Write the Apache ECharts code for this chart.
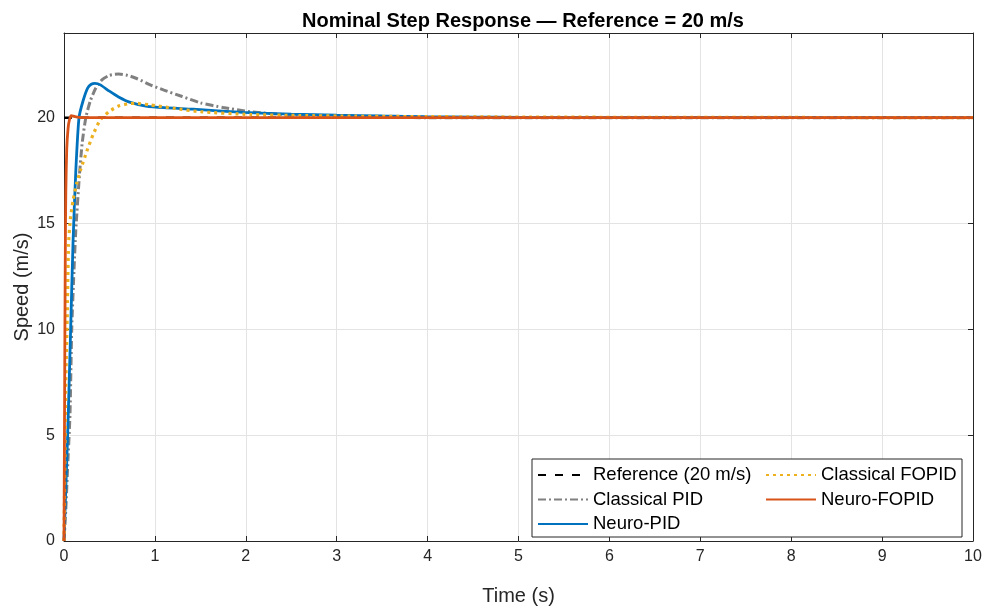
<!DOCTYPE html>
<html>
<head>
<meta charset="utf-8">
<script src="https://cdn.jsdelivr.net/npm/echarts@6/dist/echarts.min.js"></script>
<style>
  html, body { margin: 0; padding: 0; background: #fff; }
  #chart { width: 987px; height: 612px; }
</style>
</head>
<body>
<div id="chart"></div>
<script>
// time (s) / speed (m/s) samples
const refT = [0, 10];
const refV = [20, 20];

const pidT = [0, 0.02, 0.04, 0.066, 0.085, 0.11, 0.13, 0.17, 0.2, 0.24, 0.29, 0.35, 0.42, 0.5, 0.6, 0.7, 0.8, 0.95, 1.1, 1.3, 1.5, 1.75, 2.05, 2.4, 2.8, 3.2, 4, 10];
const pidV = [0, 1.5, 3.5, 6, 10, 12.8, 14.7, 17.3, 18.8, 20, 20.8, 21.4, 21.8, 22.0, 22.06, 22.0, 21.85, 21.55, 21.3, 21.0, 20.7, 20.48, 20.28, 20.15, 20.08, 20.04, 20, 20];

const npidT = [0, 0.02, 0.04, 0.07, 0.1, 0.13, 0.165, 0.21, 0.26, 0.3, 0.34, 0.4, 0.5, 0.6, 0.73, 0.9, 1.1, 1.42, 1.97, 2.5, 3.0, 3.5, 4.0, 4.5, 5, 10];
const npidV = [0, 2.5, 5, 9.5, 14.2, 17.5, 20, 20.8, 21.4, 21.58, 21.62, 21.55, 21.25, 20.98, 20.72, 20.55, 20.47, 20.4, 20.25, 20.17, 20.12, 20.08, 20.05, 20.03, 20.01, 20];

const fopidT = [0, 0.01, 0.02, 0.035, 0.05, 0.07, 0.1, 0.14, 0.18, 0.25, 0.32, 0.4, 0.5, 0.6, 0.7, 0.78, 0.95, 1.2, 1.5, 2.05, 2.6, 3.2, 4, 5, 6, 8, 10];
const fopidV = [0, 4, 7.5, 10.5, 14, 15.2, 16.1, 16.9, 17.5, 18.4, 19.2, 19.9, 20.3, 20.55, 20.65, 20.68, 20.6, 20.45, 20.28, 20.15, 20.1, 20.07, 20.05, 20.03, 20.02, 20.01, 20];

const nfopidT = [0, 0.005, 0.01, 0.015, 0.02, 0.03, 0.045, 0.06, 0.08, 0.12, 0.2, 10];
const nfopidV = [0, 5, 10, 14, 16.5, 18.5, 19.5, 19.9, 20.1, 20.05, 20, 20];

const xTicks = { min: 0, max: 10, interval: 1 };
const yTicks = { min: 0, max: 24, interval: 5 };

const pairs = (t, v) => t.map((x, i) => [x, v[i]]);

const FONT = 'Liberation Sans, Arial, sans-serif';
const AX = '#262626';

const chart = echarts.init(document.getElementById('chart'));

function lineSeries(name, data, color, width, type, z) {
  return {
    name, type: 'line', data, z,
    showSymbol: false, symbol: 'none',
    smooth: 0.2,
    lineStyle: { color, width, type, cap: 'butt' },
    itemStyle: { color },
    animation: false
  };
}

const axisCommon = {
  axisLine: { show: true, onZero: false, lineStyle: { color: AX, width: 1 } },
  axisTick: { show: true, inside: true, length: 5, lineStyle: { color: AX } },
  splitLine: { show: false }
};

const legendCommon = {
  orient: 'vertical', top: 460, z: 100,
  itemWidth: 50, itemHeight: 14, itemGap: 4.5,
  itemStyle: { opacity: 0 },
  textStyle: { fontFamily: FONT, fontSize: 18.5, lineHeight: 20, color: '#000' }
};

chart.setOption({
  animation: false,
  textStyle: { fontFamily: FONT },
  title: {
    text: 'Nominal Step Response — Reference = 20 m/s',
    left: 518, top: 6, textAlign: 'center',
    textStyle: { fontFamily: FONT, fontSize: 20, fontWeight: 'bold', color: '#000' }
  },
  grid: { left: 64, right: 14, top: 33, bottom: 71 },
  xAxis: [
    Object.assign({}, axisCommon, {
      type: 'value', position: 'bottom',
      min: xTicks.min, max: xTicks.max, interval: xTicks.interval,
      name: 'Time (s)', nameLocation: 'middle', nameGap: 45, nameMoveOverlap: false,
      nameTextStyle: { fontFamily: FONT, fontSize: 20, color: AX },
      axisLabel: { fontFamily: FONT, fontSize: 16, color: AX, margin: 8 },
      splitLine: { show: true, lineStyle: { color: '#e3e3e3', width: 1 } }
    }),
    Object.assign({}, axisCommon, {
      type: 'value', position: 'top',
      min: xTicks.min, max: xTicks.max, interval: xTicks.interval,
      axisLabel: { show: false }
    })
  ],
  yAxis: [
    Object.assign({}, axisCommon, {
      type: 'value', position: 'left',
      min: yTicks.min, max: yTicks.max, interval: yTicks.interval,
      name: 'Speed (m/s)', nameLocation: 'middle', nameGap: 32, nameMoveOverlap: false,
      nameTextStyle: { fontFamily: FONT, fontSize: 20, color: AX },
      axisLabel: {
        fontFamily: FONT, fontSize: 16, color: AX, margin: 9,
        formatter: v => (v % yTicks.interval === 0 ? String(v) : '')
      },
      splitLine: { show: true, lineStyle: { color: '#e3e3e3', width: 1 } }
    }),
    Object.assign({}, axisCommon, {
      type: 'value', position: 'right',
      min: yTicks.min, max: yTicks.max, interval: yTicks.interval,
      axisLabel: { show: false }
    })
  ],
  graphic: [{
    type: 'rect', z: 90,
    shape: { x: 532, y: 459, width: 430, height: 78 },
    style: { fill: '#fff', stroke: '#262626', lineWidth: 1 }
  }],
  legend: [
    Object.assign({}, legendCommon, {
      data: ['Reference (20 m/s)', 'Classical PID', 'Neuro-PID'],
      left: 532
    }),
    Object.assign({}, legendCommon, {
      data: ['Classical FOPID', 'Neuro-FOPID'],
      left: 760
    })
  ],
  series: [
    lineSeries('Reference (20 m/s)', pairs(refT, refV), '#000000', 2.5, [8, 9], 2),
    lineSeries('Classical PID', pairs(pidT, pidV), '#808080', 3, [8, 3, 2, 3], 3),
    lineSeries('Neuro-PID', pairs(npidT, npidV), '#0072BD', 2.8, 'solid', 4),
    lineSeries('Classical FOPID', pairs(fopidT, fopidV), '#EDB120', 3.2, [3, 4], 5),
    lineSeries('Neuro-FOPID', pairs(nfopidT, nfopidV), '#D95319', 2.8, 'solid', 6)
  ]
});
</script>
</body>
</html>
